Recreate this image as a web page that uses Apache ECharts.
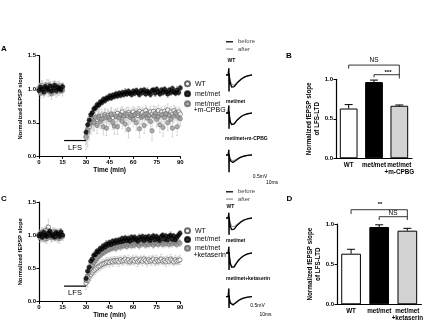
<!DOCTYPE html>
<html><head><meta charset="utf-8">
<script src="https://cdn.jsdelivr.net/npm/echarts@6/dist/echarts.min.js"></script>
<style>html,body{margin:0;padding:0;background:#fff}#c{width:433px;height:324px}</style>
</head><body><div id="c"></div>
<script>
// ---------- DATA ----------
const timeBase = [0,1,2,3,4,5,6,7,8,9,10,11,12,13,14,15];
const timePost = [30,31,32,33,34,35,36,37,38,39,40,41,42,43,44,45,46,47,48,49,50,51,52,53,54,55,56,57,58,59,60,61,62,63,64,65,66,67,68,69,70,71,72,73,74,75,76,77,78,79,80,81,82,83,84,85,86,87,88,89,90];

// Panel A
const aWTbase = [1.02,0.97,1.05,0.95,1.03,0.99,1.06,0.96,1.01,1.04,0.98,1.03,0.97,1.05,1.00,1.02];
const aWTpost = [0.28,0.36,0.44,0.50,0.53,0.52,0.57,0.55,0.58,0.56,
 0.60,0.57,0.62,0.58,0.61,0.59,0.63,0.58,0.62,0.60,
 0.64,0.59,0.62,0.66,0.60,0.63,0.61,0.65,0.62,0.60,
 0.66,0.62,0.64,0.61,0.67,0.63,0.65,0.62,0.68,0.64,
 0.62,0.66,0.63,0.67,0.61,0.65,0.68,0.63,0.66,0.62,
 0.67,0.64,0.69,0.62,0.66,0.63,0.68,0.65,0.62,0.66,0.63];
const aWTerrBase = [0.07,0.06,0.08,0.07,0.06,0.07,0.08,0.06,0.07,0.06,0.07,0.08,0.06,0.07,0.06,0.07];
const aWTerrPost = [0.18,0.22,0.20,0.17,0.15,0.14,0.12,0.12,0.11,0.10,
 0.10,0.09,0.09,0.08,0.09,0.08,0.08,0.09,0.08,0.08,
 0.08,0.07,0.08,0.08,0.07,0.08,0.07,0.08,0.07,0.07,
 0.08,0.07,0.07,0.08,0.07,0.07,0.08,0.07,0.08,0.07,
 0.07,0.08,0.07,0.08,0.07,0.07,0.08,0.07,0.08,0.07,
 0.08,0.07,0.09,0.07,0.08,0.07,0.08,0.07,0.08,0.07,0.08];

const aMMbase = [0.98,1.03,1.00,0.96,1.04,1.01,0.99,1.05,0.97,1.02,1.06,0.98,1.03,1.01,0.99,1.04];
const aMMpost = [0.36,0.47,0.54,0.62,0.65,0.71,0.72,0.77,0.76,0.81,
 0.80,0.85,0.83,0.87,0.86,0.90,0.87,0.91,0.89,0.93,
 0.90,0.94,0.91,0.95,0.92,0.96,0.93,0.97,0.94,0.92,
 0.97,0.94,0.98,0.95,0.92,0.98,0.95,0.99,0.93,0.97,
 0.95,0.92,0.98,0.99,0.94,1.00,0.96,0.93,0.99,0.95,
 1.00,0.96,0.93,0.99,0.95,1.01,0.96,0.94,0.99,0.95,1.02];
const aMMerrBase = [0.05,0.06,0.05,0.05,0.06,0.05,0.05,0.06,0.05,0.05,0.06,0.05,0.05,0.06,0.05,0.05];
const aMMerrPost = [0.06,0.06,0.05,0.05,0.05,0.05,0.04,0.04,0.04,0.04,
 0.04,0.04,0.04,0.04,0.04,0.04,0.04,0.04,0.04,0.04,
 0.04,0.04,0.04,0.04,0.04,0.05,0.04,0.04,0.04,0.04,
 0.04,0.04,0.04,0.05,0.04,0.04,0.04,0.04,0.04,0.05,
 0.04,0.04,0.04,0.04,0.05,0.04,0.04,0.04,0.04,0.04,
 0.04,0.05,0.05,0.04,0.04,0.04,0.04,0.04,0.05,0.04,0.04];

const aCPbase = [1.00,0.94,1.03,1.01,0.97,1.06,0.98,1.02,0.93,1.05,1.00,0.97,1.04,0.99,1.02,0.98];
const aCPpost = [0.30,0.40,0.48,0.52,0.55,0.50,0.58,0.46,0.60,0.52,
 0.56,0.44,0.60,0.42,0.58,0.55,0.62,0.50,0.45,0.60,
 0.44,0.57,0.62,0.52,0.60,0.48,0.63,0.40,0.58,0.61,
 0.55,0.62,0.50,0.64,0.41,0.58,0.60,0.46,0.63,0.57,
 0.61,0.52,0.38,0.60,0.64,0.55,0.59,0.47,0.62,0.43,
 0.58,0.63,0.50,0.61,0.55,0.42,0.60,0.64,0.44,0.58,0.56];
const aCPerrBase = [0.08,0.07,0.09,0.08,0.07,0.08,0.09,0.07,0.08,0.07,0.08,0.09,0.07,0.08,0.07,0.08];
const aCPerrPost = [0.12,0.14,0.12,0.11,0.10,0.11,0.10,0.12,0.10,0.11,
 0.10,0.12,0.10,0.11,0.10,0.10,0.11,0.10,0.12,0.10,
 0.11,0.10,0.10,0.11,0.10,0.12,0.10,0.13,0.10,0.10,
 0.11,0.10,0.12,0.10,0.13,0.10,0.11,0.12,0.10,0.11,
 0.10,0.11,0.14,0.10,0.10,0.11,0.10,0.12,0.10,0.13,
 0.10,0.10,0.12,0.10,0.11,0.13,0.10,0.10,0.13,0.10,0.11];

// Panel C
const cWTbase = [1.01,0.96,1.04,0.98,1.07,0.95,1.12,1.00,0.97,1.05,0.99,1.02,0.96,1.04,1.01,0.98];
const cWTpost = [0.28,0.32,0.37,0.41,0.44,0.47,0.49,0.51,0.53,0.54,
 0.56,0.57,0.58,0.59,0.60,0.59,0.61,0.60,0.62,0.61,
 0.62,0.60,0.63,0.61,0.62,0.64,0.61,0.63,0.60,0.62,
 0.63,0.61,0.64,0.60,0.62,0.63,0.61,0.64,0.62,0.60,
 0.63,0.61,0.62,0.64,0.60,0.63,0.61,0.62,0.64,0.61,
 0.62,0.60,0.63,0.61,0.64,0.62,0.60,0.63,0.61,0.62,0.63];
const cWTerrBase = [0.07,0.06,0.07,0.08,0.06,0.07,0.12,0.06,0.07,0.06,0.07,0.06,0.07,0.06,0.07,0.06];
const cWTerrPost = [0.10,0.10,0.09,0.09,0.08,0.08,0.08,0.07,0.07,0.07,
 0.07,0.07,0.06,0.07,0.06,0.07,0.06,0.07,0.06,0.06,
 0.06,0.07,0.06,0.06,0.07,0.06,0.06,0.07,0.06,0.06,
 0.07,0.06,0.06,0.07,0.06,0.06,0.07,0.06,0.06,0.07,
 0.06,0.06,0.07,0.06,0.06,0.07,0.06,0.06,0.07,0.06,
 0.06,0.07,0.06,0.06,0.07,0.06,0.06,0.07,0.06,0.06,0.07];

const cMMbase = [0.99,1.02,0.97,1.04,1.00,0.98,1.03,1.06,0.99,1.01,0.97,1.04,1.02,0.98,1.05,1.00];
const cMMpost = [0.35,0.46,0.52,0.61,0.64,0.70,0.71,0.76,0.75,0.80,
 0.79,0.84,0.82,0.87,0.85,0.89,0.86,0.91,0.88,0.92,
 0.89,0.93,0.90,0.95,0.91,0.96,0.92,0.95,0.91,0.97,
 0.93,0.97,0.94,0.91,0.97,0.94,0.98,0.92,0.97,0.94,
 0.98,0.92,0.96,0.99,0.93,0.98,0.95,0.92,0.98,1.00,
 0.94,0.99,0.93,0.98,1.00,0.94,0.99,0.93,0.97,1.00,1.03];
const cMMerrBase = [0.05,0.05,0.06,0.05,0.05,0.06,0.05,0.05,0.05,0.06,0.05,0.05,0.06,0.05,0.05,0.05];
const cMMerrPost = [0.06,0.06,0.05,0.05,0.05,0.05,0.05,0.04,0.04,0.04,
 0.04,0.04,0.04,0.05,0.04,0.04,0.04,0.04,0.04,0.04,
 0.04,0.04,0.05,0.04,0.04,0.04,0.04,0.05,0.04,0.04,
 0.04,0.04,0.04,0.04,0.05,0.04,0.04,0.04,0.04,0.05,
 0.04,0.04,0.05,0.04,0.04,0.04,0.05,0.04,0.04,0.04,
 0.05,0.04,0.04,0.04,0.05,0.04,0.04,0.05,0.04,0.04,0.04];

const cKTbase = [1.00,0.97,1.05,1.02,0.94,1.08,0.99,1.03,0.96,1.02,1.05,0.98,1.01,0.95,1.03,1.00];
const cKTpost = [0.32,0.38,0.44,0.50,0.55,0.59,0.62,0.65,0.68,0.70,
 0.72,0.74,0.75,0.77,0.78,0.79,0.80,0.81,0.82,0.80,
 0.83,0.84,0.82,0.85,0.84,0.86,0.83,0.86,0.87,0.84,
 0.87,0.85,0.88,0.87,0.84,0.88,0.87,0.89,0.85,0.88,
 0.86,0.89,0.88,0.85,0.88,0.89,0.86,0.88,0.90,0.86,
 0.89,0.87,0.90,0.86,0.89,0.87,0.90,0.88,0.86,0.90,0.88];
const cKTerrBase = [0.06,0.07,0.06,0.07,0.06,0.08,0.06,0.07,0.06,0.07,0.06,0.07,0.06,0.07,0.06,0.07];
const cKTerrPost = [0.08,0.08,0.07,0.07,0.07,0.06,0.06,0.06,0.06,0.05,
 0.05,0.05,0.05,0.05,0.05,0.05,0.05,0.05,0.05,0.05,
 0.05,0.05,0.05,0.05,0.05,0.05,0.05,0.05,0.05,0.05,
 0.05,0.05,0.05,0.05,0.05,0.05,0.05,0.05,0.05,0.05,
 0.05,0.05,0.05,0.05,0.05,0.05,0.05,0.05,0.05,0.05,
 0.05,0.05,0.05,0.05,0.05,0.05,0.05,0.05,0.05,0.05,0.05];

const lfsStart = 16, lfsEnd = 30, lfsLevel = 0.235;

// Bar panels
const barCatsB = ['WT','met/met','met/met\n+m-CPBG'];
const barValsB = [0.63,0.965,0.665];
const barErrB  = [0.05,0.025,0.01];
const barCatsD = ['WT','met/met','met/met\n+ketaserin'];
const barValsD = [0.63,0.963,0.917];
const barErrD  = [0.055,0.027,0.029];
const yTicksBar = ['0.0','0.5','1.0'];

// Example fEPSP traces (ms, mV)
const trMs = [0,5,6,6.5,7,7.5,8,10,13,16,19,22,26,30,35,40,45,50,55,60];
const aWTbefore = [0,0,0,0.45,-1.1,0.1,-0.2,-0.55,-0.8,-0.85,-0.78,-0.66,-0.52,-0.4,-0.28,-0.18,-0.11,-0.06,-0.02,0];
const aWTafter  = [0,0,0,0.45,-1.1,0.1,-0.12,-0.4,-0.62,-0.7,-0.68,-0.6,-0.49,-0.38,-0.27,-0.18,-0.11,-0.06,-0.02,0];
const aMMbefore = [0,0,0,0.5,-1.05,0.1,-0.22,-0.6,-0.78,-0.8,-0.72,-0.6,-0.46,-0.34,-0.23,-0.15,-0.09,-0.05,-0.02,0];
const aMMafter  = [0,0,0,0.5,-1.05,0.1,-0.2,-0.56,-0.75,-0.78,-0.71,-0.59,-0.46,-0.35,-0.24,-0.16,-0.1,-0.05,-0.02,0];
const aCPbefore = [0,0,0,0.35,-1.15,0.05,-0.15,-0.38,-0.5,-0.5,-0.45,-0.38,-0.29,-0.21,-0.14,-0.09,-0.05,-0.03,-0.01,0];
const aCPafter  = [0,0,0,0.35,-1.15,0.05,-0.1,-0.28,-0.38,-0.4,-0.37,-0.31,-0.24,-0.18,-0.12,-0.08,-0.05,-0.03,-0.01,0];
const cWTbefore = [0,0,0,0.35,-1.12,0.08,-0.2,-0.55,-0.78,-0.8,-0.74,-0.62,-0.48,-0.36,-0.25,-0.16,-0.1,-0.05,-0.02,0];
const cWTafter  = [0,0,0,0.35,-1.12,0.08,-0.1,-0.35,-0.55,-0.6,-0.58,-0.51,-0.42,-0.33,-0.24,-0.16,-0.1,-0.05,-0.02,0];
const cMMbefore = [0,0,0,0.42,-1.13,0.08,-0.25,-0.7,-0.95,-1.0,-0.92,-0.78,-0.6,-0.45,-0.31,-0.2,-0.12,-0.06,-0.02,0];
const cMMafter  = [0,0,0,0.42,-1.13,0.08,-0.22,-0.65,-0.9,-0.95,-0.88,-0.75,-0.58,-0.44,-0.3,-0.2,-0.12,-0.06,-0.02,0];
const cKTbefore = [0,0,0,0.55,-0.75,0.08,-0.18,-0.42,-0.55,-0.55,-0.5,-0.42,-0.32,-0.24,-0.16,-0.1,-0.06,-0.03,-0.01,0];
const cKTafter  = [0,0,0,0.55,-0.75,0.08,-0.15,-0.38,-0.5,-0.5,-0.46,-0.39,-0.3,-0.22,-0.15,-0.1,-0.06,-0.03,-0.01,0];
const scaleMV = 0.5, scaleMS = 10;

// ---------- CHART ----------
const FONT = '"Liberation Sans", Arial, sans-serif';
const chart = echarts.init(document.getElementById('c'));

function pts(base, post){ return timeBase.map((t,i)=>[t,base[i]]).concat(timePost.map((t,i)=>[t,post[i]])); }
function epts(base, post, eb, ep){ return timeBase.map((t,i)=>[t,base[i],eb[i]]).concat(timePost.map((t,i)=>[t,post[i],ep[i]])); }

function errRender(color){
  return function(params, api){
    const x = api.value(0), y = api.value(1), e = api.value(2);
    const a = api.coord([x, y+e]), b = api.coord([x, y-e]);
    const cw = 1.1;
    const st = {stroke: color, lineWidth: 0.6};
    return {type:'group', children:[
      {type:'line', shape:{x1:a[0],y1:a[1],x2:b[0],y2:b[1]}, style:st},
      {type:'line', shape:{x1:a[0]-cw,y1:a[1],x2:a[0]+cw,y2:a[1]}, style:st},
      {type:'line', shape:{x1:b[0]-cw,y1:b[1],x2:b[0]+cw,y2:b[1]}, style:st}
    ]};
  };
}
function barErrRender(params, api){
  const x = api.value(0), y = api.value(1), e = api.value(2);
  const a = api.coord([x, y]), b = api.coord([x, y+e]);
  const st = {stroke:'#000', lineWidth:1};
  return {type:'group', children:[
    {type:'line', shape:{x1:a[0],y1:a[1],x2:b[0],y2:b[1]}, style:st},
    {type:'line', shape:{x1:b[0]-4,y1:b[1],x2:b[0]+4,y2:b[1]}, style:st}
  ]};
}

const axLine = {show:true, onZero:false, lineStyle:{color:'#000', width:1.2}};
const axTick = {show:true, length:2.5, lineStyle:{color:'#000', width:1}};
const lblStyle = {fontSize:6, fontWeight:'bold', color:'#000', fontFamily:FONT};

function tcX(gi){ return {gridIndex:gi, type:'value', min:0, max:90, interval:15,
  axisLine:axLine, axisTick:axTick, axisLabel:Object.assign({margin:3}, lblStyle), splitLine:{show:false},
  name:'Time (min)', nameLocation:'middle', nameGap:10,
  nameTextStyle:{fontSize:6.5, fontWeight:'bold', color:'#000', fontFamily:FONT}}; }
function tcY(gi){ return {gridIndex:gi, type:'value', min:0, max:1.5, interval:0.5,
  axisLine:axLine, axisTick:axTick, axisLabel:Object.assign({margin:3, formatter:v=>v.toFixed(1)}, lblStyle), splitLine:{show:false},
  name:'Normalized fEPSP slope', nameLocation:'middle', nameGap:11,
  nameTextStyle:{fontSize:5.8, fontWeight:'bold', color:'#000', fontFamily:FONT}}; }
function barX(gi, cats){ return {gridIndex:gi, type:'category', data:cats,
  axisLine:axLine, axisTick:{show:false}, axisLabel:Object.assign({margin:3, lineHeight:7, interval:0}, lblStyle, {fontSize:6.3})}; }
function barY(gi){ return {gridIndex:gi, type:'value', min:0, max:1, interval:0.5,
  axisLine:axLine, axisTick:axTick, axisLabel:Object.assign({margin:3, formatter:v=>yTicksBar[Math.round(v*2)]}, lblStyle), splitLine:{show:false},
  name:'Normalized fEPSP slope\nof LFS-LTD', nameLocation:'middle', nameGap:11,
  nameTextStyle:{fontSize:6.3, fontWeight:'bold', color:'#000', fontFamily:FONT, lineHeight:7.5}}; }
function trX(gi){ return {gridIndex:gi, type:'value', min:0, max:60, show:false}; }
function trY(gi){ return {gridIndex:gi, type:'value', min:-1.2, max:0.8, show:false}; }

const traceTops = [63,101,143,206,241,284.7];
const grids = [
  {left:39, top:55.7, width:141.3, height:100.6},
  {left:39, top:202, width:141, height:99.7},
  {left:336, top:79.3, width:76, height:79},
  {left:337, top:224, width:84.4, height:80.3}
].concat(traceTops.map(t=>({left:226, top:t, width:26, height:30})));

const xAxes = [tcX(0), tcX(1), barX(2, barCatsB), barX(3, barCatsD)];
const yAxes = [tcY(0), tcY(1), barY(2), barY(3)];
for (let k=0;k<6;k++){ xAxes.push(trX(4+k)); yAxes.push(trY(4+k)); }

const series = [];
const styles = {
  WT:{color:'#fff', borderColor:'#444', borderWidth:0.7},
  MM:{color:'#000', borderColor:'#000', borderWidth:0.5},
  GR:{color:'#9a9a9a', borderColor:'#666', borderWidth:0.6}
};
function addTC(gi, name, st, base, post, eb, ep, ecol){
  series.push({type:'custom', xAxisIndex:gi, yAxisIndex:gi, renderItem:errRender(ecol), data:epts(base,post,eb,ep), silent:true});
  series.push({type:'scatter', name:name, xAxisIndex:gi, yAxisIndex:gi, symbol:'circle', symbolSize:4.4, itemStyle:st, data:pts(base,post)});
}
addTC(0,'WT',styles.WT,aWTbase,aWTpost,aWTerrBase,aWTerrPost,'#c4c4c4');
addTC(0,'met/met+m-CPBG',styles.GR,aCPbase,aCPpost,aCPerrBase,aCPerrPost,'#c4c4c4');
addTC(0,'met/met',styles.MM,aMMbase,aMMpost,aMMerrBase,aMMerrPost,'#888');
addTC(1,'WT',styles.WT,cWTbase,cWTpost,cWTerrBase,cWTerrPost,'#c4c4c4');
addTC(1,'met/met+ketaserin',styles.GR,cKTbase,cKTpost,cKTerrBase,cKTerrPost,'#c4c4c4');
addTC(1,'met/met',styles.MM,cMMbase,cMMpost,cMMerrBase,cMMerrPost,'#888');
[0,1].forEach(gi=>series.push({type:'line', xAxisIndex:gi, yAxisIndex:gi, symbol:'none', silent:true,
  data:[[lfsStart,lfsLevel],[lfsEnd,lfsLevel]], lineStyle:{color:'#000', width:1.2}}));

// bars
const barFill = ['#fff','#000','#d2d2d2'];
function addBars(gi, vals, errs){
  series.push({type:'bar', xAxisIndex:gi, yAxisIndex:gi, barWidth:'70%',
    data:vals.map((v,i)=>({value:v, itemStyle:{color:barFill[i], borderColor:'#000', borderWidth:1}}))});
  series.push({type:'custom', xAxisIndex:gi, yAxisIndex:gi, renderItem:barErrRender, z:5,
    data:vals.map((v,i)=>[i,v,errs[i]])});
}
addBars(2, barValsB, barErrB);
addBars(3, barValsD, barErrD);
function bracket(gi, d){ series.push({type:'line', xAxisIndex:gi, yAxisIndex:gi, symbol:'none', clip:false, silent:true,
  data:d, lineStyle:{color:'#000', width:0.8}}); }
bracket(2, [[0,1.135],[0,1.18],[2,1.18],[2,1.01]]);
bracket(2, [[1,1.025],[1,1.058],[2,1.058]]);
bracket(3, [[0,1.124],[0,1.178],[2,1.178],[2,1.05]]);
bracket(3, [[1,1.05],[1,1.091],[2,1.091]]);

// traces
const traces = [[aWTbefore,aWTafter],[aMMbefore,aMMafter],[aCPbefore,aCPafter],[cWTbefore,cWTafter],[cMMbefore,cMMafter],[cKTbefore,cKTafter]];
traces.forEach(([b,a],k)=>{
  series.push({type:'line', name:'after', xAxisIndex:4+k, yAxisIndex:4+k, symbol:'none', silent:true,
    data:trMs.map((t,i)=>[t,a[i]]), lineStyle:{color:'#9a9a9a', width:1.2}, itemStyle:{color:'#9a9a9a'}});
  series.push({type:'line', name:'before', xAxisIndex:4+k, yAxisIndex:4+k, symbol:'none', silent:true,
    data:trMs.map((t,i)=>[t,b[i]]), lineStyle:{color:'#000', width:1.3}, itemStyle:{color:'#000'}});
});
function scaleBar(gi, anchor){ series.push({type:'line', xAxisIndex:gi, yAxisIndex:gi, symbol:'none', clip:false, silent:true,
  data:[[anchor[0],anchor[1]+scaleMV],[anchor[0],anchor[1]],[anchor[0]+scaleMS,anchor[1]]], lineStyle:{color:'#000', width:1}}); }
scaleBar(6, [101.5,-1.53]);
scaleBar(9, [87.7,-0.77]);

function legTC(top, third, gap){ return {orient:'vertical', left:184, top:top, itemWidth:5, itemHeight:5, itemGap:gap, padding:0,
  icon:'circle', selectedMode:false, data:['WT','met/met',third],
  formatter:n=>n.indexOf('met/met+')===0?'met/met':n,
  textStyle:{fontSize:7, lineHeight:7, color:'#111', fontFamily:FONT}}; }
function legTr(top){ return {orient:'vertical', left:226, top:top, itemWidth:7, itemHeight:1.3, itemGap:0.3, padding:0,
  icon:'rect', selectedMode:false, data:['before','after'],
  textStyle:{fontSize:6, lineHeight:7, color:'#444', fontFamily:FONT}}; }

function txt(s, x, y, size, weight, align){ return {type:'text', x:x, y:y, silent:true,
  style:{text:s, font:(weight||'normal')+' '+size+'px '+FONT, fill:'#000', textAlign:align||'left', textVerticalAlign:'middle', align:align||'left', verticalAlign:'middle'}}; }

const graphic = [
  txt('A',1,48.3,8,'bold'), txt('B',286,55.3,8,'bold'), txt('C',1,199,8,'bold'), txt('D',286.5,199,8,'bold'),
  txt('LFS',75,148,7.5,'normal','center'), txt('LFS',75,293,7.5,'normal','center'),
  txt('+m-CPBG',193.5,110.3,7), txt('+ketaserin',193.5,255.5,7),
  txt('WT',227.5,60.7,5,'bold'), txt('met/met',226,101.7,5,'bold'), txt('met/met+m-CPBG',225,139,5,'bold'),
  txt('WT',226.5,206.7,5,'bold'), txt('met/met',226,241,5,'bold'), txt('met/met+ketaserin',226,279,5,'bold'),
  txt('0.5mV',260,176.5,5,'normal','center'), txt('10ms',272,182.5,5,'normal','center'),
  txt('0.5mV',257.5,306,5,'normal','center'), txt('10ms',265.5,315,5,'normal','center'),
  txt('NS',374,60.5,6.5,'normal','center'), txt('***',388,72.5,6,'bold','center'),
  txt('**',380,204.5,6,'bold','center'), txt('NS',393,213.5,6.5,'normal','center')
];

chart.setOption({
  animation:false,
  backgroundColor:'#fff',
  grid:grids, xAxis:xAxes, yAxis:yAxes,
  legend:[legTC(80.2,'met/met+m-CPBG',3), legTC(227.2,'met/met+ketaserin',1.8), legTr(38.3), legTr(188.3)],
  series:series,
  graphic:graphic
});
</script></body></html>
